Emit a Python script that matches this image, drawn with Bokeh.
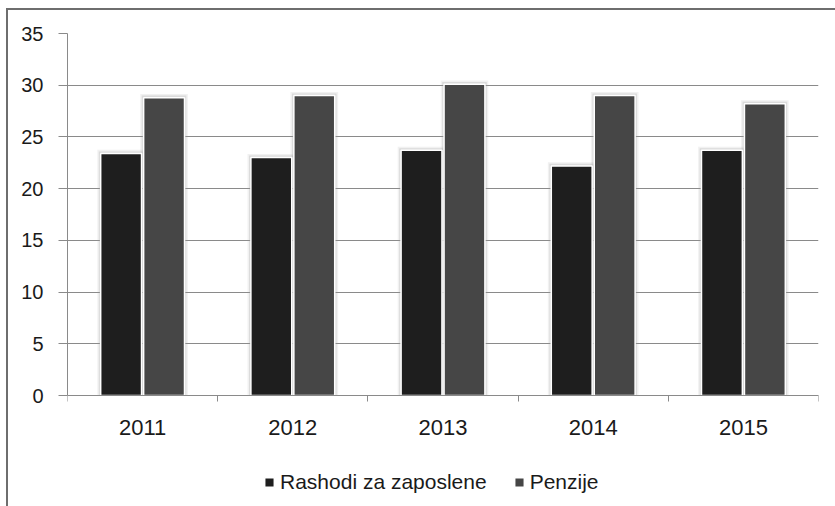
from bokeh.plotting import figure
from bokeh.models import Range1d, FixedTicker, Legend, LegendItem
from bokeh.embed import file_html
from bokeh.resources import INLINE

years = ["2011", "2012", "2013", "2014", "2015"]
rashodi = [23.4, 23.0, 23.7, 22.2, 23.7]
penzije = [28.8, 29.0, 30.1, 29.0, 28.2]
series_names = ["Rashodi za zaposlene", "Penzije"]
y_ticks = [0, 5, 10, 15, 20, 25, 30, 35]

xs = list(range(1, len(years) + 1))
x_dark = [x - 0.143 for x in xs]
x_light = [x + 0.143 for x in xs]
bw = 0.272

FONT = "Liberation Sans"
GRID = "#8a8a8a"
BORDER = "#6e6e6e"

W, H = 835, 506
LEFT, TOP, RIGHT = 67, 33, 17
AXIS_Y_PX = 395            # pixel row of value 0
px_per_unit = (AXIS_Y_PX - TOP) / (y_ticks[-1] - y_ticks[0])
y_bottom = -(H - AXIS_Y_PX) / px_per_unit

p = figure(width=W, height=H, output_backend="svg", toolbar_location=None,
           x_range=Range1d(0.5, len(years) + 0.5), y_range=Range1d(y_bottom, y_ticks[-1]),
           min_border_left=LEFT, min_border_top=TOP, min_border_right=RIGHT, min_border_bottom=0,
           styles={"background": (f"linear-gradient({BORDER},{BORDER}) 6px 8px / 2px 100% no-repeat, "
                                  f"linear-gradient({BORDER},{BORDER}) 6px 8px / 100% 2px no-repeat, white")})
p.outline_line_color = None
p.background_fill_color = None
p.border_fill_color = None

# soft shadows around bars
for xv, vals in ((x_dark, rashodi), (x_light, penzije)):
    p.vbar(x=xv, top=[v + 0.35 for v in vals], width=bw + 0.045, fill_color="#9a9a9a",
           fill_alpha=0.14, line_color=None)
    p.vbar(x=xv, top=[v + 0.2 for v in vals], width=bw + 0.025, fill_color="#9a9a9a",
           fill_alpha=0.25, line_color=None)

r1 = p.vbar(x=x_dark, top=rashodi, width=bw, fill_color="#1e1e1e",
            line_color="white", line_width=1.5)
r2 = p.vbar(x=x_light, top=penzije, width=bw, fill_color="#464646",
            line_color="white", line_width=1.5)

# y axis
p.yaxis.ticker = FixedTicker(ticks=y_ticks)
p.yaxis.bounds = (y_ticks[0], y_ticks[-1])
p.yaxis.axis_line_color = GRID
p.yaxis.major_tick_line_color = GRID
p.yaxis.major_tick_out = 9
p.yaxis.major_tick_in = 0
p.yaxis.minor_tick_line_color = None
p.yaxis.major_label_standoff = 15
p.yaxis.major_label_text_font = FONT
p.yaxis.major_label_text_font_size = "20px"
p.yaxis.major_label_text_color = "#1a1a1a"

# x axis fixed at value 0
p.xaxis.fixed_location = 0
p.xaxis.ticker = FixedTicker(ticks=xs, minor_ticks=[x - 0.5 for x in xs] + [xs[-1] + 0.5])
p.xaxis.major_label_overrides = {x: y for x, y in zip(xs, years)}
p.xaxis.axis_line_color = GRID
p.xaxis.major_tick_line_color = None
p.xaxis.major_tick_out = 0
p.xaxis.major_tick_in = 0
p.xaxis.minor_tick_line_color = GRID
p.xaxis.minor_tick_out = 6
p.xaxis.minor_tick_in = 0
p.xaxis.major_label_standoff = 18
p.xaxis.major_label_text_font = FONT
p.xaxis.major_label_text_font_size = "22px"
p.xaxis.major_label_text_color = "#1a1a1a"

p.xgrid.grid_line_color = None
p.ygrid.grid_line_color = GRID
p.ygrid.grid_line_width = 1

legend = Legend(items=[LegendItem(label=series_names[0], renderers=[r1]),
                       LegendItem(label=series_names[1], renderers=[r2])],
                orientation="horizontal", location=(196, 12),
                label_text_font=FONT, label_text_font_size="21px",
                label_text_color="#1a1a1a",
                glyph_width=12, glyph_height=12, label_standoff=5, spacing=26,
                border_line_color=None, background_fill_alpha=0,
                padding=0, margin=0)
p.add_layout(legend, "center")

open("out.html", "w").write(file_html(p, INLINE))
